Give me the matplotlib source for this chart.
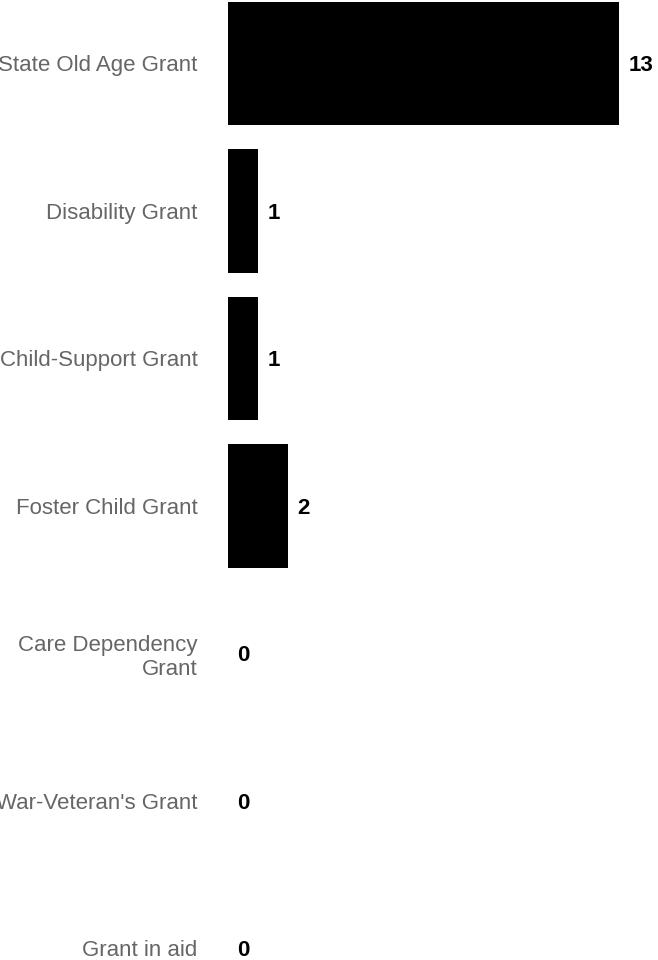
import matplotlib
matplotlib.use("Agg")
import matplotlib.pyplot as plt

categories = ["State Old Age Grant", "Disability Grant", "Child-Support Grant",
              "Foster Child Grant", "Care Dependency\nGrant", "War-Veteran's Grant",
              "Grant in aid"]
counts = [13, 1, 1, 2, 0, 0, 0]

plt.rcParams['font.family'] = ['Liberation Sans', 'DejaVu Sans']

fig = plt.figure(figsize=(6.58, 9.6), dpi=100)
ax = fig.add_axes([228 / 658, 0, 430 / 658, 1])

pos = list(range(len(categories)))
ax.barh(pos, counts, height=0.834, color="black")

for y, v in zip(pos, counts):
    ax.annotate(str(v), (v, y), xytext=(6.5, -1.5), textcoords="offset points",
                ha="left", va="center", fontsize=16, fontweight="bold", color="black")

ax.set_yticks(pos)
ax.set_yticklabels(categories, fontsize=16, color="#666666", ha="right",
                   multialignment="right")
ax.tick_params(axis="y", length=0, pad=22)
ax.set_xticks([])
ax.set_xlim(0, 14.28)
ax.set_ylim(6.078, -0.4305)
for s in ax.spines.values():
    s.set_visible(False)

fig.savefig("out.png", dpi=100)
